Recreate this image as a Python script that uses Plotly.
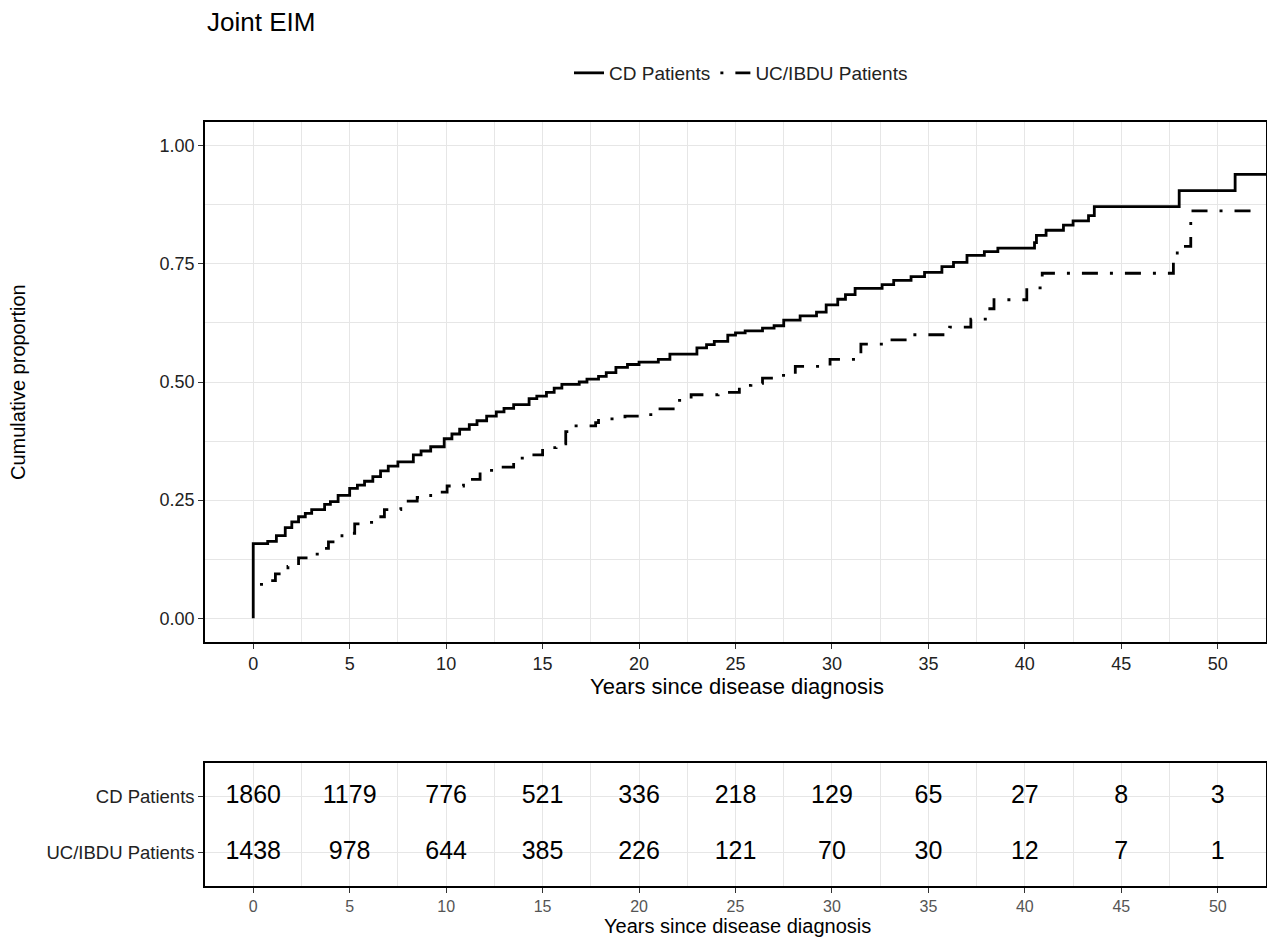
import plotly.graph_objects as go

# ---------------- data ----------------
cd_time = [0, 0, 0.75, 1.2, 1.66, 2.0, 2.35, 2.7, 3.03, 3.7, 4.0, 4.4, 5.0, 5.4, 5.77, 6.2, 6.6,
           7.0, 7.5, 8.3, 8.7, 9.2, 9.9, 10.3, 10.7, 11.2, 11.6, 12.1, 12.6, 13.0, 13.5, 14.3,
           14.7, 15.2, 15.6, 16.0, 16.9, 17.3, 17.9, 18.3, 18.8, 19.4, 20.0, 21.0, 21.6, 23.0,
           23.5, 23.9, 24.6, 25.0, 25.5, 26.4, 27.0, 27.5, 28.35, 29.2, 29.7, 30.3, 30.7, 31.2,
           32.6, 33.2, 34.1, 34.8, 35.7, 36.3, 37.0, 37.9, 38.6, 40.5, 40.6, 41.1, 42.0, 42.5,
           43.3, 43.6, 48.0, 50.9, 53.0]
cd_prob = [0, 0.158, 0.163, 0.175, 0.192, 0.204, 0.215, 0.222, 0.23, 0.241, 0.247, 0.26, 0.275,
           0.282, 0.29, 0.3, 0.312, 0.322, 0.331, 0.346, 0.354, 0.363, 0.38, 0.39, 0.4, 0.41,
           0.418, 0.428, 0.437, 0.444, 0.452, 0.465, 0.47, 0.478, 0.487, 0.495, 0.5, 0.506,
           0.512, 0.52, 0.531, 0.537, 0.542, 0.548, 0.559, 0.572, 0.579, 0.586, 0.599, 0.604,
           0.608, 0.614, 0.619, 0.631, 0.64, 0.648, 0.663, 0.675, 0.685, 0.698, 0.706, 0.715,
           0.723, 0.732, 0.744, 0.753, 0.768, 0.776, 0.783, 0.795, 0.81, 0.821, 0.832, 0.841,
           0.852, 0.871, 0.905, 0.939, 0.939]

uc_time = [0.35, 0.8, 1.15, 1.8, 2.35, 2.86, 3.4, 3.9, 4.6, 5.26, 5.77, 6.3, 6.8, 7.65, 8.5, 9.2,
           10.05, 10.9, 11.76, 12.6, 13.5, 14.16, 15.0, 15.7, 16.2, 16.55, 17.75, 17.9, 19.27,
           20.15, 21.0, 21.9, 22.7, 24.1, 25.2, 25.8, 26.4, 27.2, 28.1, 29.9, 31.2, 31.5, 32.8,
           34.1, 36.1, 37.2, 38.1, 38.4, 40.1, 40.9, 47.7, 47.9, 48.6, 52.0]
uc_prob = [0.072, 0.08, 0.094, 0.11, 0.128, 0.136, 0.148, 0.162, 0.18, 0.2, 0.203, 0.215, 0.23,
           0.248, 0.256, 0.267, 0.28, 0.294, 0.313, 0.32, 0.339, 0.346, 0.361, 0.369, 0.395,
           0.407, 0.414, 0.422, 0.428, 0.431, 0.443, 0.461, 0.473, 0.478, 0.493, 0.497, 0.508,
           0.514, 0.533, 0.548, 0.553, 0.58, 0.589, 0.6, 0.616, 0.633, 0.655, 0.674, 0.699,
           0.73, 0.753, 0.787, 0.862, 0.862]

risk_times = [0, 5, 10, 15, 20, 25, 30, 35, 40, 45, 50]
risk_cd = [1860, 1179, 776, 521, 336, 218, 129, 65, 27, 8, 3]
risk_uc = [1438, 978, 644, 385, 226, 121, 70, 30, 12, 7, 1]
groups = ["CD Patients", "UC/IBDU Patients"]

# ---------------- figure ----------------
OFF = 8                      # default body margin of the page
W, H = 1275 - 2 * OFF, 946 - 2 * OFF
FONT = "Liberation Sans, Arial, sans-serif"
GRID = "#e6e6e6"


def px(x):
    return min(1.0, max(0.0, (x - OFF) / W))


def py(y):
    return min(1.0, max(0.0, 1 - (y - OFF) / H))


fig = go.Figure()

fig.add_trace(go.Scatter(x=cd_time, y=cd_prob, mode="lines", name=groups[0],
                         line=dict(color="black", width=2.8, shape="hv"),
                         xaxis="x", yaxis="y"))
fig.add_trace(go.Scatter(x=uc_time, y=uc_prob, mode="lines", name=groups[1],
                         line=dict(color="black", width=2.8, shape="hv",
                                   dash="3px,12px,16px,12px"),
                         xaxis="x", yaxis="y"))

fig.add_trace(go.Scatter(x=risk_times, y=[2] * len(risk_times), mode="text",
                         text=[str(v) for v in risk_cd], showlegend=False,
                         textfont=dict(size=25, color="black", family=FONT),
                         xaxis="x2", yaxis="y2", hoverinfo="skip"))
fig.add_trace(go.Scatter(x=risk_times, y=[1] * len(risk_times), mode="text",
                         text=[str(v) for v in risk_uc], showlegend=False,
                         textfont=dict(size=25, color="black", family=FONT),
                         xaxis="x2", yaxis="y2", hoverinfo="skip"))

axis_common = dict(showline=True, linecolor="black", linewidth=1.5, mirror=True,
                   ticks="outside", ticklen=5, tickcolor="#333333", tickwidth=1,
                   showgrid=True, gridcolor=GRID, gridwidth=1.2, zeroline=False)

fig.update_layout(
    width=W, height=H,
    margin=dict(l=0, r=0, t=0, b=0),
    paper_bgcolor="white", plot_bgcolor="white",
    font=dict(family=FONT, color="black"),
    xaxis=dict(domain=[px(205), px(1266)], range=[-2.5, 52.5], anchor="y",
               tickvals=list(range(0, 51, 5)), tickfont=dict(size=18, color="#222222"),
               minor=dict(tick0=0, dtick=2.5, showgrid=True, gridcolor=GRID, gridwidth=0.8,
                          ticks=""),
               **axis_common),
    yaxis=dict(domain=[py(642), py(122)], range=[-0.05, 1.05], anchor="x",
               tickvals=[0, 0.25, 0.5, 0.75, 1.0],
               ticktext=["0.00", "0.25", "0.50", "0.75", "1.00"],
               tickfont=dict(size=18, color="#222222"),
               minor=dict(tick0=0, dtick=0.125, showgrid=True, gridcolor=GRID, gridwidth=0.8,
                          ticks=""),
               **axis_common),
    xaxis2=dict(domain=[px(205), px(1266)], range=[-2.5, 52.5], anchor="y2",
                tickvals=list(range(0, 51, 5)), tickfont=dict(size=16, color="#555555"),
                minor=dict(tick0=0, dtick=2.5, showgrid=True, gridcolor=GRID, gridwidth=0.8,
                           ticks=""),
                **axis_common),
    yaxis2=dict(domain=[py(886), py(763)], range=[0.4, 2.6], anchor="x2",
                tickvals=[2, 1], ticktext=groups,
                tickfont=dict(size=18.5, color="#222222"),
                **axis_common),
    legend=dict(orientation="h", x=px(741), xanchor="center", y=py(73), yanchor="middle",
                font=dict(size=19, color="#222222"), itemwidth=30,
                bgcolor="rgba(0,0,0,0)"),
    annotations=[
        dict(text="Joint EIM", x=px(205), y=py(22), xref="paper", yref="paper",
             xanchor="left", yanchor="middle", showarrow=False,
             font=dict(size=26, color="black")),
        dict(text="Cumulative proportion", x=px(18), y=py(382), xref="paper", yref="paper",
             xanchor="center", yanchor="middle", textangle=-90, showarrow=False,
             font=dict(size=20, color="black")),
        dict(text="Years since disease diagnosis", x=px(737), y=py(686), xref="paper",
             yref="paper", xanchor="center", yanchor="middle", showarrow=False,
             font=dict(size=22, color="black")),
        dict(text="Years since disease diagnosis", x=px(737), y=0, xref="paper",
             yref="paper", xanchor="center", yanchor="bottom", showarrow=False,
             borderpad=0, font=dict(size=20, color="black")),
    ],
)

fig.write_html("out.html")
